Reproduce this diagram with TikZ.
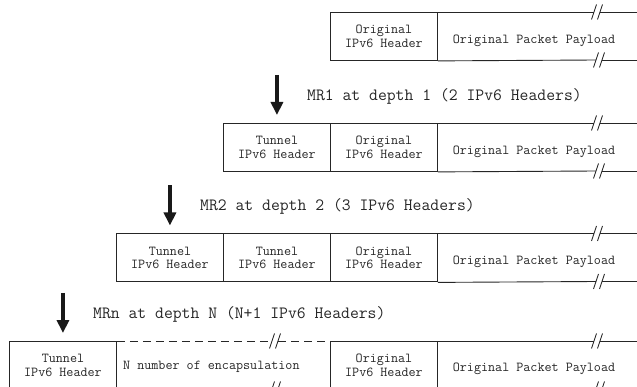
\documentclass[tikz,border=0pt]{standalone}
\usetikzlibrary{arrows.meta,calc}
\newcommand\cellfont{\ttfamily\fontsize{13.7}{13.3}\selectfont}
\newcommand\tagfont{\ttfamily\fontsize{17.2}{18}\selectfont}
\begin{document}
\begin{tikzpicture}[x=1pt,y=-1pt,
  ink/.style={draw=black!85, line width=0.9pt},
  cell/.style={ink, minimum width=107pt, minimum height=48pt, inner sep=0pt,
    align=center, font=\cellfont, text=black!85, anchor=north west},
  payload/.style={font=\cellfont, text=black!85, inner sep=0pt},
  tag/.style={font=\tagfont, text=black!85, inner sep=0pt, anchor=west},
  bigarrow/.style={draw=black!90, line width=4pt, -{Triangle[length=13pt,width=12pt]}},
  brk/.pic={\draw[ink] (-5.5,7.5) -- (-0.5,-7.5); \draw[ink] (0.5,7.5) -- (5.5,-7.5);}
]
\clip (0,0) rectangle (637,387);

% ---------- plain packet ----------
\node[cell] (r1o) at (330,12) {Original\\IPv6 Header};
\coordinate (b1t) at (597,12);  \coordinate (e1t) at (645,12);
\coordinate (b1b) at (599,60);  \coordinate (e1b) at (645,60);
\draw[ink] (r1o.north east) -- ([xshift=-3pt]b1t);  \draw[ink] ([xshift=3pt]b1t) -- (e1t);
\draw[ink] (r1o.south east) -- ([xshift=-3pt]b1b);  \draw[ink] ([xshift=3pt]b1b) -- (e1b);
\pic at (b1t) {brk}; \pic at (b1b) {brk};
\node[payload] (p1) at (534,40.5) {Original Packet Payload};

% ---------- depth 1 ----------
\node[cell] (r2t) at (223,123) {Tunnel\\IPv6 Header};
\node[cell] (r2o) at (330,123) {Original\\IPv6 Header};
\coordinate (b2t) at (597,123); \coordinate (e2t) at (645,123);
\coordinate (b2b) at (599,171); \coordinate (e2b) at (645,171);
\draw[ink] (r2o.north east) -- ([xshift=-3pt]b2t);  \draw[ink] ([xshift=3pt]b2t) -- (e2t);
\draw[ink] (r2o.south east) -- ([xshift=-3pt]b2b);  \draw[ink] ([xshift=3pt]b2b) -- (e2b);
\pic at (b2t) {brk}; \pic at (b2b) {brk};
\node[payload] (p2) at (534,151.5) {Original Packet Payload};
\coordinate (a2s) at ($(r2t.north)+(0,-48)$);
\coordinate (a2e) at ($(r2t.north)+(0,-8)$);
\draw[bigarrow] (a2s) -- (a2e);
\node[tag] (l2) at ($(a2s)+(30,21)$) {MR1 at depth 1 (2 IPv6 Headers)};

% ---------- depth 2 ----------
\node[cell] (r3t) at (116,233.5) {Tunnel\\IPv6 Header};
\node[cell] (r3u) at (223,233.5) {Tunnel\\IPv6 Header};
\node[cell] (r3o) at (330,233.5) {Original\\IPv6 Header};
\coordinate (b3t) at (597,233.5); \coordinate (e3t) at (645,233.5);
\coordinate (b3b) at (599,281.5); \coordinate (e3b) at (645,281.5);
\draw[ink] (r3o.north east) -- ([xshift=-3pt]b3t);  \draw[ink] ([xshift=3pt]b3t) -- (e3t);
\draw[ink] (r3o.south east) -- ([xshift=-3pt]b3b);  \draw[ink] ([xshift=3pt]b3b) -- (e3b);
\pic at (b3t) {brk}; \pic at (b3b) {brk};
\node[payload] (p3) at (534,262) {Original Packet Payload};
\coordinate (a3s) at ($(r3t.north)+(0,-48)$);
\coordinate (a3e) at ($(r3t.north)+(0,-8)$);
\draw[bigarrow] (a3s) -- (a3e);
\node[tag] (l3) at ($(a3s)+(30,21)$) {MR2 at depth 2 (3 IPv6 Headers)};

% ---------- depth N ----------
\node[cell] (r4t) at (9,341) {Tunnel\\IPv6 Header};
\node[cell] (r4o) at (330,341) {Original\\IPv6 Header};
% elided run of tunnel headers
\coordinate (b4t) at (275,341); \coordinate (b4b) at (275,389);
\draw[ink, dash pattern=on 8pt off 5pt] (r4t.north east) -- ([xshift=-3pt]b4t);
\draw[ink, dash pattern=on 8pt off 5pt] ([xshift=3pt]b4t) -- (r4o.north west);
\draw[ink, dash pattern=on 8pt off 5pt] (r4t.south east) -- ([xshift=-3pt]b4b);
\draw[ink, dash pattern=on 8pt off 5pt] ([xshift=3pt]b4b) -- (r4o.south west);
\pic at (b4t) {brk}; \pic at (b4b) {brk};
\node[payload, anchor=west] (n4) at (123,367) {N number of encapsulation};
\coordinate (c4t) at (597,341); \coordinate (e4t) at (645,341);
\coordinate (c4b) at (599,389); \coordinate (e4b) at (645,389);
\draw[ink] (r4o.north east) -- ([xshift=-3pt]c4t);  \draw[ink] ([xshift=3pt]c4t) -- (e4t);
\draw[ink] (r4o.south east) -- ([xshift=-3pt]c4b);  \draw[ink] ([xshift=3pt]c4b) -- (e4b);
\pic at (c4t) {brk}; \pic at (c4b) {brk};
\node[payload] (p4) at (534,369) {Original Packet Payload};
\coordinate (a4s) at ($(r4t.north)+(0,-48)$);
\coordinate (a4e) at ($(r4t.north)+(0,-8)$);
\draw[bigarrow] (a4s) -- (a4e);
\node[tag] (l4) at ($(a4s)+(30,21)$) {MRn at depth N (N+1 IPv6 Headers)};
\end{tikzpicture}
\end{document}
